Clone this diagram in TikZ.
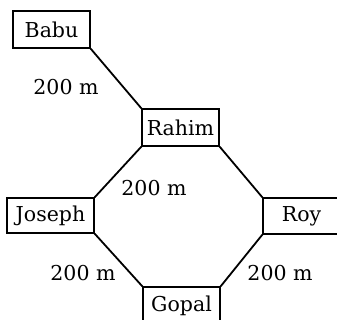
\documentclass[tikz,border=0pt]{standalone}
\usepackage{fontspec}
\setmainfont{DejaVu Serif}
\begin{document}
\begin{tikzpicture}[x=1pt,y=-1pt,
  person/.style={draw, line width=1.3pt, rectangle, inner sep=0pt, minimum width=77pt, minimum height=37pt, font=\fontsize{20.5}{22}\selectfont},
  road/.style={line width=1.8pt},
  dist/.style={font=\fontsize{20.5}{22}\selectfont, inner sep=0pt}]
\clip (0,0) rectangle (337,320);
\node[person] (babu) at (51.5,29.5) {Babu};
\node[person] (rahim) at (180.5,127.5) {Rahim};
\node[person, minimum width=87pt, minimum height=35pt] (joseph) at (50.5,215.5) {Joseph};
\node[person, minimum height=36pt] (roy) at (301.5,216) {Roy};
\node[person] (gopal) at (181.5,305.5) {Gopal};
\draw[road] (babu.south east) -- (rahim.north west);
\draw[road] (rahim.south west) -- (joseph.north east);
\draw[road] (rahim.south east) -- (roy.north west);
\draw[road] (joseph.south east) -- (gopal.north west);
\draw[road] (roy.south west) -- (gopal.north east);
\node[dist] (d1) at (66,87) {200 m};
\node[dist] (d2) at (154,188) {200 m};
\node[dist] (d3) at (83,273) {200 m};
\node[dist] (d4) at (280,273) {200 m};
\end{tikzpicture}
\end{document}
